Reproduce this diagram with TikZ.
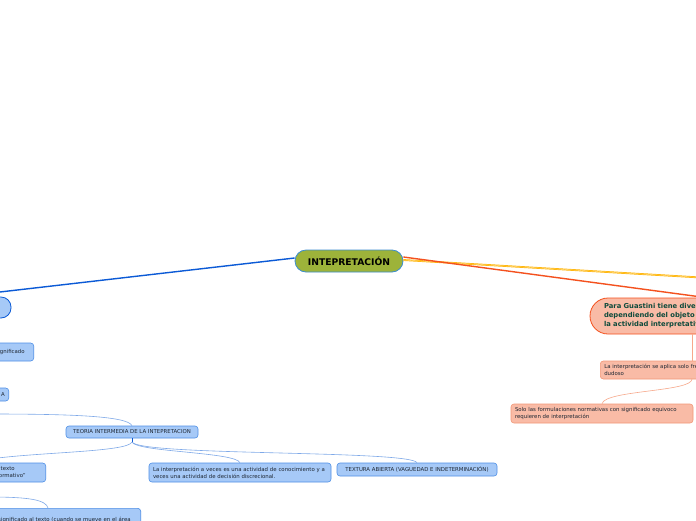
\documentclass[tikz,border=0pt]{standalone}
\usepackage{fontspec}
\setmainfont{DejaVu Sans}
\definecolor{bfill}{HTML}{A6C9F7}
\definecolor{bborder}{HTML}{4F8FE6}
\definecolor{bline}{HTML}{7FA9E8}
\definecolor{bdark}{HTML}{0B5AD6}
\definecolor{mfill}{HTML}{9DB33A}
\definecolor{mborder}{HTML}{3C8DCF}
\definecolor{sfill}{HTML}{F9BBA6}
\definecolor{sborder}{HTML}{F29878}
\definecolor{sline}{HTML}{F7A88B}
\definecolor{rline}{HTML}{F4511E}
\definecolor{yline}{HTML}{FFB300}
\definecolor{sdark}{HTML}{0F4B3C}
\definecolor{txt}{HTML}{1E2733}
\newcommand{\smallfnt}{\fontsize{5.4}{7}\selectfont}
\tikzset{
  bbox/.style={draw=bborder, fill=bfill, rounded corners=3, line width=0.6pt, text=txt, font=\smallfnt, inner xsep=4pt, inner ysep=1pt},
  sbox/.style={draw=sborder, fill=sfill, rounded corners=3, line width=0.6pt, text=txt, font=\smallfnt, inner xsep=4pt, inner ysep=1pt},
  bconn/.style={draw=bline, line width=0.6pt},
  sconn/.style={draw=sline, line width=0.6pt},
}
\begin{document}
\begin{tikzpicture}[x=1pt,y=-1pt]
\useasboundingbox (0,0) rectangle (696,520);
\clip (0,0) rectangle (696,520);
\fill[white] (0,0) rectangle (696,520);

% main node
\node[draw=mborder, fill=mfill, line width=0.8pt, rounded corners=11, minimum width=108, minimum height=22, inner sep=0pt,
      font=\fontsize{9.2}{11}\selectfont\bfseries, text=black] (main) at (349,261) {INTEPRETACIÓN};

% left big node (clipped)
\node[draw=bdark, fill=bfill, line width=0.8pt, rounded corners=10, minimum width=102, minimum height=21, inner sep=0pt] (lbig) at (-40,307.5) {};

% left nodes
\node[bbox, anchor=east, text width=102, align=right, inner xsep=9pt, minimum height=18] (sig) at (34,352) {significado};
\node[bbox, anchor=east, text width=40, align=right, inner xsep=4pt, minimum height=13] (ca) at (9,394.5) {A};
\node[bbox, minimum width=132, minimum height=12] (teo) at (132,432) {TEORIA INTERMEDIA DE LA INTEPRETACION};
\node[bbox, anchor=east, text width=80, align=right, inner xsep=20pt, minimum height=19] (norm) at (46,472.5) {texto\rule{11pt}{0pt}\\normativo"};
\node[bbox, text width=174, align=left, minimum height=19] (vec) at (240,472.5) {La interpretación a veces es una actividad de conocimiento y a\\veces una actividad de decisión discrecional.};
\node[bbox, minimum width=160, minimum height=13] (tex) at (417,469.5) {TEXTURA ABIERTA (VAGUEDAD E INDETERMINACIÓN)};
\node[bbox, anchor=north east, text width=200, align=right, inner xsep=10pt, inner ysep=3pt, minimum height=24] (area) at (141,508) {significado al texto (cuando se mueve en el área\\ };

% right nodes
\node[draw=rline, fill=sfill, line width=0.8pt, rounded corners=18, minimum width=232, minimum height=36, text width=204, align=left, inner xsep=14pt,
      font=\fontsize{6.8}{9}\selectfont\bfseries, text=sdark] (sbig) at (706,316)
      {Para Guastini tiene diversos significados\\dependiendo del objeto de la actividad\\la actividad interpretativa};
\node[sbox, anchor=west, text width=180, align=left, minimum height=18] (dud) at (600,370) {La interpretación se aplica solo frente a un texto\\dudoso};
\node[sbox, text width=174, align=left, minimum height=19] (solo) at (602,413.5) {Solo las formulaciones normativas con significado equivoco\\requieren de interpretación};

% coordinates for connector ends
\coordinate (yend) at (760,281);
\coordinate (sbigb) at (692,334);
\coordinate (dudt) at (692,361);
\coordinate (dudb) at (692,379);
\coordinate (lft1) at (-10,414);
\coordinate (lft2) at (-10,459);
\coordinate (lft3) at (-10,497);
\coordinate (teob) at (132,442);
\coordinate (areat) at (48,508);

% main connectors
\draw[draw=bdark, line width=1.4pt] ([yshift=3]main.west) -- (lbig.north);
\draw[draw=yline, line width=1.8pt] ([yshift=1]main.east) -- (yend);
\draw[draw=yline!40, line width=0.4pt] ([yshift=1]main.east) -- (yend);
\draw[draw=rline, line width=1.4pt] ([yshift=4]main.east) -- (sbig.north);

% blue sub-connectors
\draw[bconn] (lft1) .. controls (70,414) and (128,416) .. (teo.north);
\draw[draw=bdark, line width=0.7pt] (teo.south) -- (teob);
\draw[bconn] (teob) .. controls (128,452) and (40,452) .. (lft2);
\draw[bconn] (teob) .. controls (136,452) and (236,452) .. (vec.north);
\draw[bconn] (teob) .. controls (140,456) and (410,450) .. (tex.north);
\draw[bconn] (lft3) .. controls (30,497) and (46,500) .. (areat);

% salmon sub-connectors
\draw[sconn] (sbigb) -- (dudt);
\draw[sconn] (dudb) .. controls (692,392) and (605,390) .. (solo.north);
\end{tikzpicture}
\end{document}
